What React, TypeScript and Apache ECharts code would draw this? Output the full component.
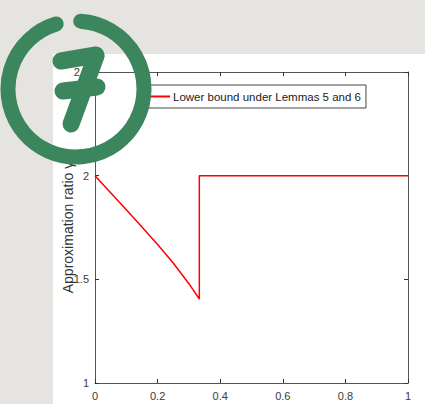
import React, { useEffect, useRef } from "react";
import * as echarts from "echarts";

const seriesName = "Lower bound under Lemmas 5 and 6";
const yAxisTitle = "Approximation ratio γ";
const xFall = [0, 0.05, 0.1, 0.15, 0.2, 0.25, 0.3, 0.3333];
const yFall = [2.0, 1.918, 1.836, 1.752, 1.668, 1.579, 1.479, 1.405];
const xFlat = [0.3333, 1];
const yFlat = [2.0, 2.0];
const xTicks = [0, 0.2, 0.4, 0.6, 0.8, 1];
const yTicks = [1, 1.5, 2, 2.5];

export default function App() {
  const ref = useRef<HTMLDivElement>(null);
  useEffect(() => {
    if (!ref.current) return;
    const chart = echarts.init(ref.current, null, { renderer: "svg" });
    const data: number[][] = [];
    xFall.forEach((x, i) => data.push([x, yFall[i]]));
    xFlat.forEach((x, i) => data.push([x, yFlat[i]]));
    const green = "#3b865d";
    const axisCol = "#555";
    const labelCol = "#3a3a3a";
    chart.setOption({
      animation: false,
      backgroundColor: "#e5e4e0",
      grid: { left: 95, top: 72, right: 17, bottom: 21, containLabel: false },
      legend: {
        left: 140,
        top: 85,
        padding: [4, 5, 4, 6],
        backgroundColor: "#fff",
        borderColor: "#444",
        borderWidth: 1,
        borderRadius: 0,
        itemWidth: 24,
        itemHeight: 2,
        itemGap: 4,
        icon: "rect",
        textStyle: { fontFamily: "Liberation Sans, Arial", fontSize: 11.5, color: "#222", lineHeight: 15, padding: [0, 0, 0, -2] },
        data: [{ name: seriesName, itemStyle: { color: "#ff0000" } }],
      },
      xAxis: [
        {
          type: "value",
          min: xTicks[0],
          max: xTicks[xTicks.length - 1],
          interval: 0.2,
          position: "bottom",
          axisLine: { show: true, onZero: false, lineStyle: { color: axisCol, width: 1 } },
          axisTick: { show: true, inside: true, length: 4, lineStyle: { color: "#333" } },
          axisLabel: { margin: 7, color: labelCol, fontFamily: "Liberation Sans, Arial", fontSize: 11 },
          splitLine: { show: false },
        },
        {
          type: "value",
          min: xTicks[0],
          max: xTicks[xTicks.length - 1],
          interval: 0.2,
          position: "top",
          axisLine: { show: true, onZero: false, lineStyle: { color: axisCol, width: 1 } },
          axisTick: { show: true, inside: true, length: 4, lineStyle: { color: "#333" } },
          axisLabel: { show: false },
          splitLine: { show: false },
        },
      ],
      yAxis: [
        {
          type: "value",
          min: yTicks[0],
          max: yTicks[yTicks.length - 1],
          interval: 0.5,
          position: "left",
          name: yAxisTitle,
          nameLocation: "middle",
          nameGap: 20,
          nameMoveOverlap: false,
          nameTextStyle: { fontFamily: "Liberation Sans, Arial", fontSize: 14, color: "#333" },
          axisLine: { show: true, onZero: false, lineStyle: { color: axisCol, width: 1 } },
          axisTick: { show: true, inside: true, length: 4, lineStyle: { color: "#333" } },
          axisLabel: { margin: 6, color: labelCol, fontFamily: "Liberation Sans, Arial", fontSize: 11 },
          splitLine: { show: false },
        },
        {
          type: "value",
          min: yTicks[0],
          max: yTicks[yTicks.length - 1],
          interval: 0.5,
          position: "right",
          axisLine: { show: true, onZero: false, lineStyle: { color: axisCol, width: 1 } },
          axisTick: { show: true, inside: true, length: 4, lineStyle: { color: "#333" } },
          axisLabel: { show: false },
          splitLine: { show: false },
        },
      ],
      series: [
        {
          name: seriesName,
          type: "line",
          xAxisIndex: 0,
          yAxisIndex: 0,
          data,
          symbol: "none",
          smooth: false,
          lineStyle: { color: "#ff0000", width: 1.5 },
          itemStyle: { color: "#ff0000" },
        },
      ],
      graphic: [
        {
          type: "rect",
          z: -100,
          shape: { x: 53, y: 54, width: 372, height: 350 },
          style: { fill: "#ffffff" },
          silent: true,
        },
        {
          type: "arc",
          z: 100,
          shape: {
            cx: 76,
            cy: 89,
            r: 68,
            startAngle: (-86 * Math.PI) / 180,
            endAngle: (253 * Math.PI) / 180,
            clockwise: true,
          },
          style: { stroke: green, lineWidth: 15, lineCap: "round", fill: null },
          silent: true,
        },
        {
          type: "line",
          z: 100,
          shape: { x1: 61, y1: 61, x2: 96, y2: 55 },
          style: { stroke: green, lineWidth: 17, lineCap: "round" },
          silent: true,
        },
        {
          type: "line",
          z: 100,
          shape: { x1: 96, y1: 56, x2: 71, y2: 124 },
          style: { stroke: green, lineWidth: 17, lineCap: "round" },
          silent: true,
        },
        {
          type: "line",
          z: 100,
          shape: { x1: 63, y1: 91, x2: 97, y2: 87 },
          style: { stroke: green, lineWidth: 17, lineCap: "round" },
          silent: true,
        },
      ],
    });
    return () => chart.dispose();
  }, []);
  return <div ref={ref} style={{ position: "fixed", left: 0, top: 0, width: 425, height: 404 }} />;
}
